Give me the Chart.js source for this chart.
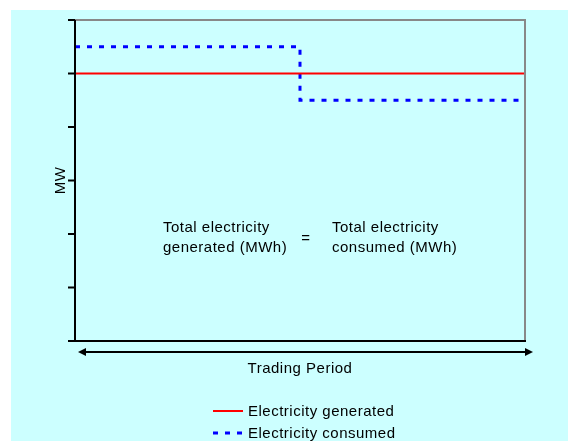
<!DOCTYPE html>
<html>
<head>
<meta charset="utf-8">
<script src="https://cdn.jsdelivr.net/npm/chart.js@4"></script>
<style>
  html, body { margin: 0; padding: 0; background: #fff; }
  #wrap { width: 569px; height: 441px; }
</style>
</head>
<body>
<div id="wrap"><canvas id="balanceChart" width="569" height="441"></canvas></div>
<script>
// trading period split in two halves, MW levels on an unlabelled 0..6 scale
const periodX = [0, 1, 2];
const generatedMW = [5, 5, 5];
const consumedMW = [5.5, 4.5, 4.5];
const yTicks = [0, 1, 2, 3, 4, 5, 6];
const seriesNames = ['Electricity generated', 'Electricity consumed'];

const FONT = '15px "Liberation Sans", Arial, sans-serif';

function drawText(c, txt, x, y, align) {
  c.font = FONT;
  c.letterSpacing = '0.5px';
  c.fillStyle = '#000';
  c.textAlign = align || 'left';
  c.textBaseline = 'middle';
  c.fillText(txt, x, y);
}

const decor = {
  id: 'decor',
  beforeDraw(chart) {
    const c = chart.ctx;
    c.save();
    c.fillStyle = '#fff';
    c.fillRect(0, 0, chart.width, chart.height);
    c.fillStyle = '#ccffff';
    c.fillRect(11, 10, chart.width - 12, chart.height - 10);
    c.restore();
  },
  afterDatasetsDraw(chart) {
    const c = chart.ctx;
    const xs = chart.scales.x, ys = chart.scales.y;
    const l = xs.getPixelForValue(0), r = xs.getPixelForValue(2);
    const t = ys.getPixelForValue(6), b = ys.getPixelForValue(0);
    c.save();
    // grey top and right frame
    c.strokeStyle = '#888';
    c.lineWidth = 2;
    c.beginPath();
    c.moveTo(l, t); c.lineTo(r, t); c.lineTo(r, b);
    c.stroke();
    // black left and bottom axes with outward ticks
    c.strokeStyle = '#000';
    c.beginPath();
    c.moveTo(l, t); c.lineTo(l, b + 1);
    c.moveTo(l - 7, b); c.lineTo(r + 1, b);
    yTicks.forEach(v => {
      const py = ys.getPixelForValue(v);
      c.moveTo(l - 7, py); c.lineTo(l, py);
    });
    c.stroke();

    // double-headed arrow under the axis
    const ay = b + 11, a0 = l + 3, a1 = r + 8;
    c.lineWidth = 2;
    c.beginPath();
    c.moveTo(a0 + 6, ay); c.lineTo(a1 - 6, ay);
    c.stroke();
    c.fillStyle = '#000';
    c.beginPath();
    c.moveTo(a0, ay); c.lineTo(a0 + 8, ay - 4); c.lineTo(a0 + 8, ay + 4); c.closePath();
    c.moveTo(a1, ay); c.lineTo(a1 - 8, ay - 4); c.lineTo(a1 - 8, ay + 4); c.closePath();
    c.fill();

    drawText(c, 'Trading Period', (l + r) / 2, b + 28, 'center');

    // y axis title
    c.save();
    c.translate(61, (t + b) / 2);
    c.rotate(-Math.PI / 2);
    drawText(c, 'MW', 0, 0, 'center');
    c.restore();

    // energy balance note
    drawText(c, 'Total electricity', 163, 228);
    drawText(c, 'generated (MWh)', 163, 248);
    drawText(c, '=', 306, 239, 'center');
    drawText(c, 'Total electricity', 332, 228);
    drawText(c, 'consumed (MWh)', 332, 248);

    // legend
    const rows = [411, 433];
    chart.data.datasets.forEach((ds, i) => {
      const y = rows[i];
      c.strokeStyle = ds.borderColor;
      c.lineWidth = ds.borderWidth;
      c.setLineDash(ds.borderDash || []);
      c.beginPath();
      c.moveTo(213, y); c.lineTo(243, y);
      c.stroke();
      c.setLineDash([]);
      drawText(c, ds.label, 248, y + 1);
    });
    c.restore();
  }
};

new Chart(document.getElementById('balanceChart'), {
  type: 'line',
  data: {
    datasets: [
      {
        label: seriesNames[0],
        data: periodX.map((x, i) => ({ x: x, y: generatedMW[i] })),
        borderColor: '#ff0000',
        borderWidth: 2,
        pointRadius: 0,
        fill: false
      },
      {
        label: seriesNames[1],
        data: periodX.map((x, i) => ({ x: x, y: consumedMW[i] })),
        borderColor: '#0000ff',
        borderWidth: 3,
        borderDash: [5, 7],
        stepped: 'before',
        pointRadius: 0,
        fill: false
      }
    ]
  },
  options: {
    responsive: false,
    animation: false,
    clip: false,
    layout: { padding: { left: 75, right: 44, top: 20, bottom: 100 } },
    scales: {
      x: { type: 'linear', min: 0, max: 2, display: false },
      y: { min: 0, max: 6, display: false }
    },
    plugins: {
      legend: { display: false },
      tooltip: { enabled: false }
    }
  },
  plugins: [decor]
});
</script>
</body>
</html>
